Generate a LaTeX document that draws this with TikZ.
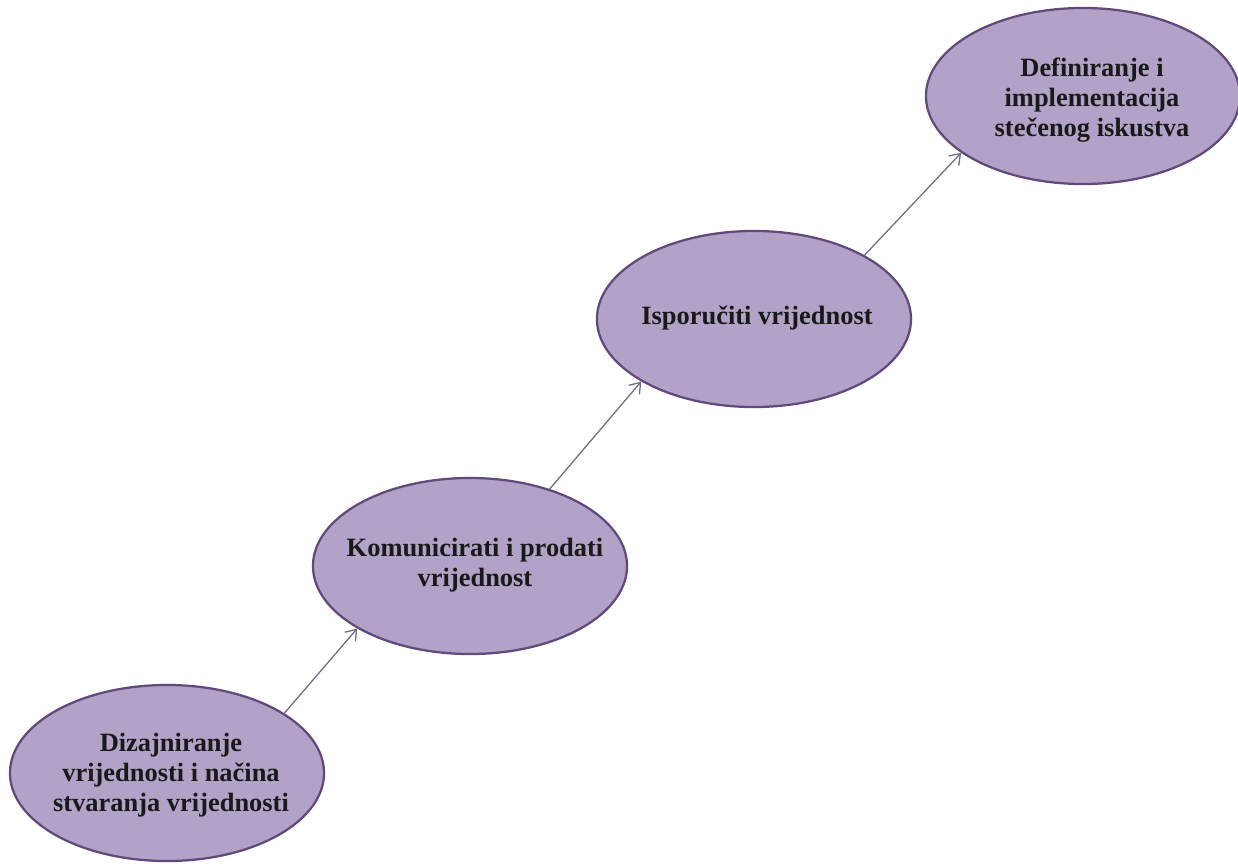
\documentclass[tikz,border=0pt]{standalone}
\usepackage{fontspec}
\setmainfont{Liberation Serif}
\usetikzlibrary{%
        arrows.meta,
        shapes.geometric
    }
\definecolor{lavender}{RGB}{179, 162, 199}
\definecolor{plum}{RGB}{96, 74, 123}
\definecolor{arrowgrey}{RGB}{112, 106, 132}
\tikzset{%
    stage/.style={%
        ellipse, draw=plum, fill=lavender, line width=1.6pt,
        minimum width=7.85cm, minimum height=4.4cm, inner sep=0pt
    },
    stagetext/.style={%
        align=center, text=black!90, inner sep=0pt,
        font=\fontsize{18.8}{21.5}\selectfont\bfseries
    },
    flow/.style={%
        draw=arrowgrey, line width=0.9pt,
        -{Straight Barb[length=7pt, width=10pt]}
    }
}

\begin{document}
\begin{tikzpicture}[x=0.025cm, y=-0.025cm]

    \useasboundingbox (0, 0) rectangle (1238, 863);

    % Stages
    \node[stage] (design) at (167, 773) {};
    \node[stage] (sell) at (470, 566) {};
    \node[stage] (deliver) at (754, 319) {};
    \node[stage] (learn) at (1083, 96) {};

    % Stage labels
    \node[stagetext] (designtext) at (171, 775)
        {Dizajniranje\\vrijednosti i načina\\stvaranja vrijednosti};
    \node[stagetext] (selltext) at (475, 565)
        {Komunicirati i prodati\\vrijednost};
    \node[stagetext] (delivertext) at (757, 318)
        {Isporučiti vrijednost};
    \node[stagetext] (learntext) at (1092, 100)
        {Definiranje i\\implementacija\\stečenog iskustva};

    % Connecting stages
    \draw[flow] (design.27) -- (sell.209);
    \draw[flow] (sell.44) -- (deliver.209);
    \draw[flow] (deliver.30) -- (learn.205);

\end{tikzpicture}
\end{document}
